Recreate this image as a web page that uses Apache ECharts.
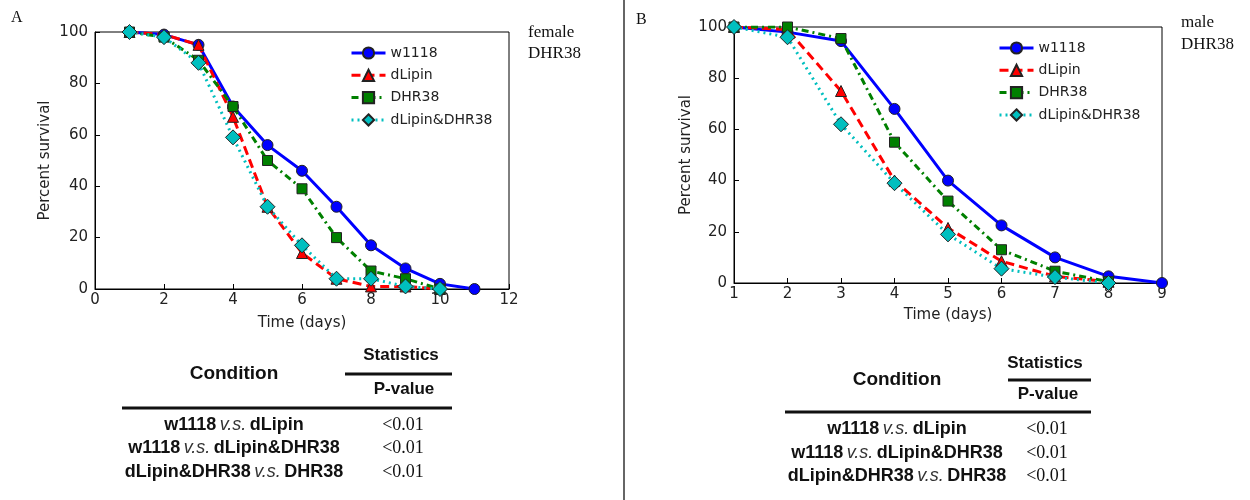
<!DOCTYPE html>
<html>
<head>
<meta charset="utf-8">
<title>Survival curves</title>
<script src="https://cdn.jsdelivr.net/npm/echarts@6/dist/echarts.min.js"></script>
<style>
  html, body { margin: 0; padding: 0; background: #fff; }
  #chart { width: 1250px; height: 500px; }
</style>
</head>
<body>
<div id="chart"></div>
<script>
// panel A - female
var daysA = [1, 2, 3, 4, 5, 6, 7, 8, 9, 10, 11];
var w1118A = [100, 99, 95, 71, 56, 46, 32, 17, 8, 2, 0];
var dLipinA = [100, 99, 95, 67, 32, 14, 4, 1, 1, 0];
var dhr38A = [100, 98, 89, 71, 50, 39, 20, 7, 4, 0];
var bothA = [100, 98, 88, 59, 32, 17, 4, 4, 1, 0];

// panel B - male
var daysB = [1, 2, 3, 4, 5, 6, 7, 8, 9];
var w1118B = [100, 98, 94.5, 68, 40, 22.5, 10, 2.6, 0];
var dLipinB = [100, 99, 75, 40, 21.5, 8.5, 2.6, 0.5];
var dhr38B = [100, 100, 95.5, 55, 32, 13, 4.6, 0.5];
var bothB = [100, 96, 62, 39, 19, 5.6, 2.3, 0];

var seriesNames = ['w1118', 'dLipin', 'DHR38', 'dLipin&DHR38'];

// statistics tables
var comparisons = [['w1118', 'dLipin'], ['w1118', 'dLipin&DHR38'], ['dLipin&DHR38', 'DHR38']];
var pValuesA = ['<0.01', '<0.01', '<0.01'];
var pValuesB = ['<0.01', '<0.01', '<0.01'];

function pairs(xs, ys) {
    var out = [];
    for (var i = 0; i < ys.length; i++) out.push([xs[i], ys[i]]);
    return out;
}

var styles = [
    {color: '#0000ff', symbol: 'circle', size: 11, dash: 'solid'},
    {color: '#ff0000', symbol: 'triangle', size: 11, dash: [9, 5]},
    {color: '#008000', symbol: 'rect', size: 10, dash: [7, 4, 2, 4]},
    {color: '#00bfbf', symbol: 'diamond', size: 15, dash: [2, 4]}
];

function makeSeries(idx, lists, days) {
    return lists.map(function (ys, k) {
        var s = styles[k];
        return {
            name: seriesNames[k],
            type: 'line',
            xAxisIndex: idx,
            yAxisIndex: idx,
            data: pairs(days, ys),
            symbol: s.symbol,
            symbolSize: s.size,
            showAllSymbol: true,
            animation: false,
            lineStyle: {color: s.color, width: 3, type: s.dash},
            itemStyle: {color: s.color, borderColor: '#222', borderWidth: 1}
        };
    });
}

var axisFont = {fontFamily: 'DejaVu Sans', fontSize: 15, color: '#222'};

function yAx(idx, gap) {
    return {
        type: 'value', gridIndex: idx, min: 0, max: 100, interval: 20,
        name: 'Percent survival', nameLocation: 'middle', nameGap: gap,
        nameTextStyle: axisFont,
        axisLine: {show: true, lineStyle: {color: '#000'}},
        axisTick: {show: true, inside: true, length: 5, lineStyle: {color: '#000'}},
        axisLabel: Object.assign({margin: 7}, axisFont),
        splitLine: {show: false}
    };
}

function xAx(idx, min, max, step, gap) {
    return {
        type: 'value', gridIndex: idx, min: min, max: max, interval: step,
        name: 'Time (days)', nameLocation: 'middle', nameGap: gap,
        nameTextStyle: axisFont,
        axisLine: {show: true, onZero: false, lineStyle: {color: '#000'}},
        axisTick: {show: true, inside: true, length: 5, lineStyle: {color: '#000'}},
        axisLabel: Object.assign({margin: 4}, axisFont),
        splitLine: {show: false}
    };
}

function tableGraphics(cx, px, ys, pvals) {
    var g = [];
    var bold = {fill: '#111', fontFamily: 'Liberation Sans', fontWeight: 'bold', fontSize: 18};
    var ital = {fill: '#333', fontFamily: 'Liberation Sans', fontStyle: 'italic', fontSize: 18};
    g.push({type: 'text', x: px, y: ys.stat, style: {text: 'Statistics', fill: '#111',
        font: 'bold 17px "Liberation Sans"', align: 'center', verticalAlign: 'middle'}});
    g.push({type: 'line', shape: {x1: ys.thinL, y1: ys.thinY, x2: ys.right, y2: ys.thinY},
        style: {stroke: '#111', lineWidth: 3}});
    g.push({type: 'text', x: cx, y: ys.cond, style: {text: 'Condition', fill: '#111',
        font: 'bold 19px "Liberation Sans"', align: 'center', verticalAlign: 'middle'}});
    g.push({type: 'text', x: px + 3, y: ys.pv, style: {text: 'P-value', fill: '#111',
        font: 'bold 17px "Liberation Sans"', align: 'center', verticalAlign: 'middle'}});
    g.push({type: 'line', shape: {x1: ys.left, y1: ys.thickY, x2: ys.right, y2: ys.thickY},
        style: {stroke: '#111', lineWidth: 3}});
    comparisons.forEach(function (c, i) {
        g.push({type: 'text', x: cx, y: ys.rows[i], style: {
            text: '{b|' + c[0] + '} {i|v.s.} {b|' + c[1] + '}',
            align: 'center', verticalAlign: 'middle',
            rich: {b: bold, i: ital}
        }});
        g.push({type: 'text', x: px + 2, y: ys.rows[i], style: {text: pvals[i], fill: '#111',
            font: '18px "Liberation Serif"', align: 'center', verticalAlign: 'middle'}});
    });
    return g;
}

var serif = '"Liberation Serif"';
var graphics = [
    {type: 'line', shape: {x1: 624, y1: 0, x2: 624, y2: 500}, style: {stroke: '#333', lineWidth: 1.5}},
    {type: 'text', x: 11, y: 10, style: {text: 'A', font: '16px ' + serif, fill: '#111'}},
    {type: 'text', x: 636, y: 12, style: {text: 'B', font: '16px ' + serif, fill: '#111'}},
    {type: 'text', x: 528, y: 22, style: {text: 'female\nDHR38', font: '17px ' + serif, fill: '#111', lineHeight: 21}},
    {type: 'text', x: 1181, y: 12, style: {text: 'male\nDHR38', font: '17px ' + serif, fill: '#111', lineHeight: 22}}
].concat(
    tableGraphics(234, 401, {stat: 355, thinL: 345, thinY: 374, right: 452, cond: 374, pv: 389,
        left: 122, thickY: 408, rows: [425, 448, 472]}, pValuesA),
    tableGraphics(897, 1045, {stat: 363, thinL: 1008, thinY: 380, right: 1091, cond: 380, pv: 394,
        left: 785, thickY: 412, rows: [429, 453, 476]}, pValuesB)
);

var legendBase = {
    orient: 'vertical', itemWidth: 34, itemHeight: 14, itemGap: 8.3,
    data: seriesNames, selectedMode: false,
    lineStyle: {width: 3},
    textStyle: {fontFamily: 'DejaVu Sans', fontSize: 14, color: '#222'}
};

var myChart = echarts.init(document.getElementById('chart'));
myChart.setOption({
    animation: false,
    backgroundColor: '#fff',
    grid: [
        {left: 95, top: 32, width: 414, height: 257, show: true, borderColor: '#000', borderWidth: 1},
        {left: 734, top: 27, width: 428, height: 256, show: true, borderColor: '#000', borderWidth: 1}
    ],
    xAxis: [xAx(0, 0, 12, 2, 27), xAx(1, 1, 9, 1, 25)],
    yAxis: [yAx(0, 42), yAx(1, 40)],
    legend: [
        Object.assign({left: 345, top: 41}, legendBase),
        Object.assign({left: 993, top: 36}, legendBase)
    ],
    series: makeSeries(0, [w1118A, dLipinA, dhr38A, bothA], daysA)
        .concat(makeSeries(1, [w1118B, dLipinB, dhr38B, bothB], daysB)),
    graphic: graphics
});
</script>
</body>
</html>
